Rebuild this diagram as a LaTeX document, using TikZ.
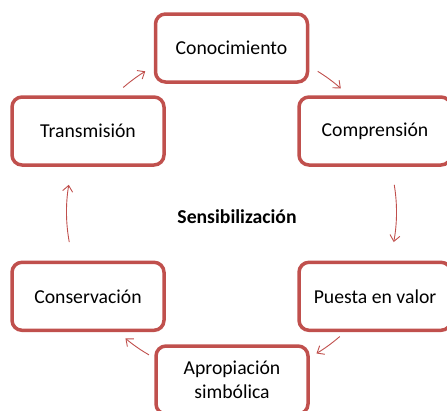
\documentclass[tikz,border=0pt]{standalone}
\usepackage{fontspec}
\setmainfont{Carlito}
\usetikzlibrary{arrows.meta}
\definecolor{accred}{RGB}{192,80,77}
\tikzset{
  stagebox/.style={draw=accred, line width=3.5pt, rounded corners=10pt, minimum width=152pt, minimum height=68pt, align=center, inner sep=0pt, font=\fontsize{19.7}{23.6}\selectfont},
  cyclearrow/.style={draw=accred, line width=0.9pt, -{Straight Barb[length=6pt,width=10pt]}},
}
\begin{document}
\begin{tikzpicture}[x=1pt,y=1pt,yscale=-1]
  \useasboundingbox (0,0) rectangle (447,410);
  
  %Shape: Rounded Rect [stages]
  \node[stagebox] (cono) at (231.5,48) {Conocimiento};
  \node[stagebox] (compr) at (375,131) {Comprensión};
  \node[stagebox] (puesta) at (375,296.3) {Puesta en valor};
  \node[stagebox] (apro) at (232,380) {Apropiación\\simbólica};
  \node[stagebox] (conserv) at (88,296.3) {Conservación};
  \node[stagebox] (trans) at (88,131) {Transmisión};
  %Text: centre
  \node[font=\bfseries\fontsize{19.7}{23.6}\selectfont] (sens) at (237,217) {Sensibilización};
  
  %Curve Lines: cycle arrows round the centre
  \coordinate (ctr) at (231.5,212);
  \foreach \a/\b in {-131/-121.5, -58.5/-48.5, -9.5/10.5, 49/59, 120/130, -190.5/-170.5}
    \draw[cyclearrow] ([shift={(\a:165)}]ctr) arc[start angle=\a, end angle=\b, radius=165];
  
\end{tikzpicture}
\end{document}
